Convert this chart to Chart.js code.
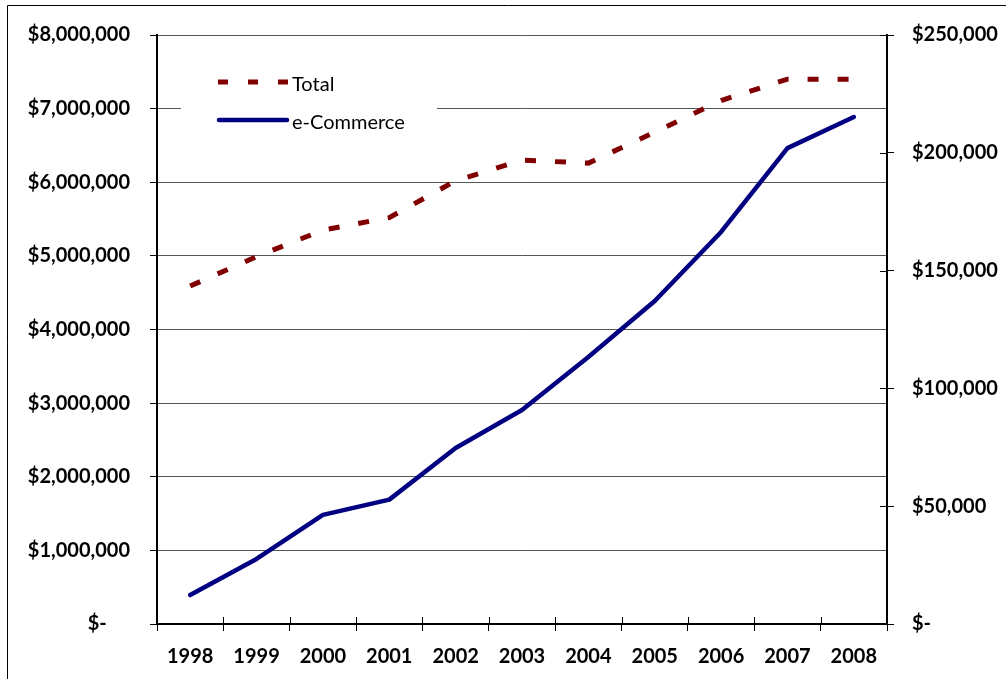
<!DOCTYPE html>
<html>
<head>
<meta charset="utf-8">
<script src="https://cdn.jsdelivr.net/npm/chart.js@4.4.1/dist/chart.umd.min.js"></script>
<style>
  html, body { margin: 0; padding: 0; background: #ffffff; overflow: hidden; }
  #wrap { width: 1006px; height: 679px; position: relative; }
</style>
</head>
<body>
<div id="wrap"><canvas id="chart" width="1006" height="679"></canvas></div>
<script>
// ---- Data ----
const years = ['1998', '1999', '2000', '2001', '2002', '2003', '2004', '2005', '2006', '2007', '2008'];
const totalSales = [4590000, 4990000, 5350000, 5520000, 6020000, 6300000, 6260000, 6680000, 7110000, 7400000, 7400000];
const ecommerceSales = [12300, 27600, 46300, 52800, 74700, 90800, 113300, 137100, 166400, 202000, 215200];
const seriesNames = ['Total', 'e-Commerce'];
const leftAxisMax = 8000000;
const leftAxisStep = 1000000;
const rightAxisMax = 250000;
const rightAxisStep = 50000;

const FONT = 'Lato, "Open Sans", "DejaVu Sans", sans-serif';
const RED = '#800000';
const NAVY = '#000080';

function money(v) {
  return '$' + Math.round(v).toLocaleString('en-US');
}

// frame around the whole chart (left and top edges visible)
const framePlugin = {
  id: 'frame',
  beforeDraw(chart) {
    const ctx = chart.ctx;
    ctx.save();
    ctx.fillStyle = '#ffffff';
    ctx.fillRect(0, 0, chart.width, chart.height);
    ctx.strokeStyle = '#000000';
    ctx.lineWidth = 1;
    ctx.beginPath();
    ctx.moveTo(7.5, chart.height + 2);
    ctx.lineTo(7.5, 5.5);
    ctx.lineTo(chart.width + 2, 5.5);
    ctx.stroke();
    ctx.restore();
  }
};

// legend drawn inside the plot area (top-left), with white box over gridlines
const innerLegend = {
  id: 'innerLegend',
  beforeDatasetsDraw(chart) {
    const ctx = chart.ctx;
    const area = chart.chartArea;
    ctx.save();
    ctx.fillStyle = '#ffffff';
    ctx.fillRect(area.left + 24, area.top + 24, 256, 92);
    ctx.lineCap = 'butt';
    // Total sample (dashed)
    ctx.strokeStyle = RED;
    ctx.lineWidth = 5;
    ctx.setLineDash([10, 20]);
    ctx.beginPath();
    ctx.moveTo(218, 82);
    ctx.lineTo(288, 82);
    ctx.stroke();
    // e-Commerce sample (solid)
    ctx.setLineDash([]);
    ctx.strokeStyle = NAVY;
    ctx.lineWidth = 4.5;
    ctx.lineCap = 'round';
    ctx.beginPath();
    ctx.moveTo(219, 120);
    ctx.lineTo(287, 120);
    ctx.stroke();
    ctx.fillStyle = '#000000';
    ctx.font = '20px ' + FONT;
    ctx.textAlign = 'left';
    ctx.textBaseline = 'middle';
    ctx.fillText(seriesNames[0], 292, 85);
    ctx.fillText(seriesNames[1], 292, 123);
    ctx.restore();
  }
};

// tick marks that cross the axis line (inner halves)
const crossTicks = {
  id: 'crossTicks',
  afterDatasetsDraw(chart) {
    const ctx = chart.ctx;
    const xs = chart.scales.x;
    const yr = chart.scales.y1;
    const area = chart.chartArea;
    ctx.save();
    ctx.strokeStyle = '#000000';
    ctx.lineWidth = 1;
    ctx.beginPath();
    const half = (xs.getPixelForValue(1) - xs.getPixelForValue(0)) / 2;
    for (let i = 0; i <= years.length; i++) {
      const px = Math.round(xs.getPixelForValue(i) - half) + 0.5;
      ctx.moveTo(px, area.bottom);
      ctx.lineTo(px, area.bottom - 7);
    }
    yr.ticks.forEach(t => {
      const py = Math.round(yr.getPixelForValue(t.value)) + 0.5;
      ctx.moveTo(area.right, py);
      ctx.lineTo(area.right - 7, py);
    });
    ctx.stroke();
    ctx.restore();
  }
};

new Chart(document.getElementById('chart'), {
  type: 'line',
  data: {
    labels: years,
    datasets: [
      {
        label: seriesNames[0],
        data: totalSales,
        yAxisID: 'y',
        borderColor: RED,
        backgroundColor: RED,
        borderWidth: 5,
        borderDash: [11, 19],
        borderCapStyle: 'butt',
        pointRadius: 0,
        tension: 0,
        fill: false
      },
      {
        label: seriesNames[1],
        data: ecommerceSales,
        yAxisID: 'y1',
        borderColor: NAVY,
        backgroundColor: NAVY,
        borderWidth: 4.5,
        borderCapStyle: 'round',
        borderJoinStyle: 'round',
        pointRadius: 0,
        tension: 0,
        fill: false
      }
    ]
  },
  options: {
    responsive: false,
    animation: false,
    events: [],
    layout: { padding: { left: 0, right: 0, top: 35, bottom: 0 } },
    plugins: {
      legend: { display: false },
      tooltip: { enabled: false },
      title: { display: false }
    },
    scales: {
      x: {
        type: 'category',
        offset: true,
        grid: {
          display: true,
          drawOnChartArea: false,
          drawTicks: true,
          tickLength: 7,
          tickColor: '#000000',
          offset: true
        },
        border: { display: true, color: '#000000', width: 2 },
        ticks: {
          color: '#000000',
          font: { family: FONT, size: 20, weight: 'bold' },
          padding: 14,
          maxRotation: 0,
          autoSkip: false
        },
        afterFit(scale) { scale.height = 55; }
      },
      y: {
        position: 'left',
        min: 0,
        max: leftAxisMax,
        grid: {
          color: '#555555',
          lineWidth: 1,
          drawTicks: true,
          tickLength: 7,
          tickColor: '#000000'
        },
        border: { display: true, color: '#000000', width: 2 },
        ticks: {
          stepSize: leftAxisStep,
          color: '#000000',
          font: { family: FONT, size: 20, weight: 'bold' },
          padding: 20,
          callback: v => v === 0 ? '$-\u2007\u2007' : money(v)
        },
        afterFit(scale) { scale.width = 157; }
      },
      y1: {
        position: 'right',
        min: 0,
        max: rightAxisMax,
        grid: {
          drawOnChartArea: false,
          drawTicks: true,
          tickLength: 7,
          tickColor: '#000000'
        },
        border: { display: true, color: '#000000', width: 2 },
        ticks: {
          stepSize: rightAxisStep,
          color: '#000000',
          font: { family: FONT, size: 20, weight: 'bold' },
          padding: 18,
          callback: v => v === 0 ? '$-' : money(v)
        },
        afterFit(scale) { scale.width = 119; }
      }
    }
  },
  plugins: [framePlugin, innerLegend, crossTicks]
});
</script>
</body>
</html>
